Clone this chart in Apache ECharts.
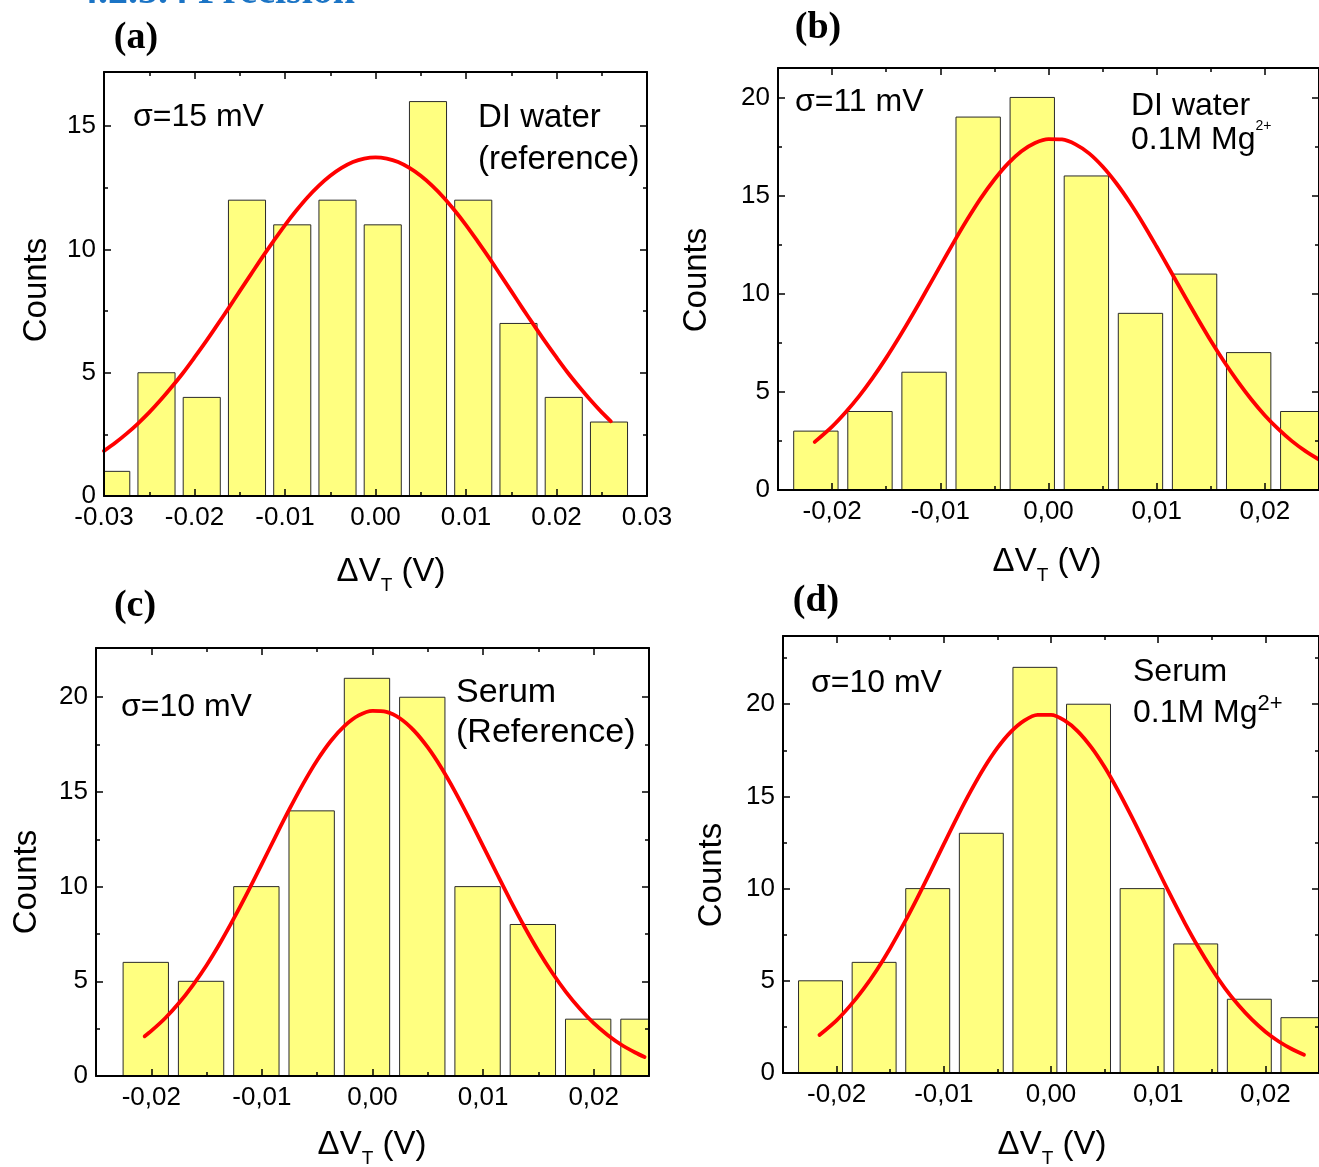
<!DOCTYPE html>
<html>
<head>
<meta charset="utf-8">
<script src="https://cdn.jsdelivr.net/npm/echarts@6/dist/echarts.min.js"></script>
<style>
  html, body { margin: 0; padding: 0; background: #fff; }
  #chart { width: 1319px; height: 1167px; }
</style>
</head>
<body>
<div id="chart"></div>
<script>
// ---- histogram data: bin centres (V) and counts ----
const binsA   = [-0.0292, -0.0242, -0.0192, -0.0142, -0.0092, -0.0042, 0.0008, 0.0058, 0.0108, 0.0158, 0.0208, 0.0258];
const countsA = [1, 5, 4, 12, 11, 12, 11, 16, 12, 7, 4, 3];

const binsB   = [-0.0215, -0.0165, -0.0115, -0.0065, -0.0015, 0.0035, 0.0085, 0.0135, 0.0185, 0.0235];
const countsB = [3, 4, 6, 19, 20, 16, 9, 11, 7, 4];

const binsC   = [-0.0205, -0.0155, -0.0105, -0.0055, -0.0005, 0.0045, 0.0095, 0.0145, 0.0195, 0.0245];
const countsC = [6, 5, 10, 14, 21, 20, 10, 8, 3, 3];

const binsD   = [-0.0215, -0.0165, -0.0115, -0.0065, -0.0015, 0.0035, 0.0085, 0.0135, 0.0185, 0.0235];
const countsD = [5, 6, 10, 13, 22, 20, 10, 7, 4, 3];

// ---- fitted normal curves (sampled points) ----
const fitXA = [-0.03, -0.02875, -0.0275, -0.02625, -0.025, -0.02375, -0.0225, -0.02125, -0.02, -0.01875,
               -0.0175, -0.01625, -0.015, -0.01375, -0.0125, -0.01125, -0.01, -0.00875, -0.0075, -0.00625,
               -0.005, -0.00375, -0.0025, -0.00125, 0, 0.00125, 0.0025, 0.00375, 0.005, 0.00625,
               0.0075, 0.00875, 0.01, 0.01125, 0.0125, 0.01375, 0.015, 0.01625, 0.0175, 0.01875,
               0.02, 0.02125, 0.0225, 0.02375, 0.025, 0.026];
const fitYA = [1.83, 2.16, 2.53, 2.94, 3.39, 3.89, 4.43, 5.00, 5.62, 6.26,
               6.93, 7.61, 8.31, 9.00, 9.69, 10.35, 10.99, 11.58, 12.12, 12.59,
               12.99, 13.31, 13.55, 13.69, 13.74, 13.69, 13.55, 13.31, 12.99, 12.59,
               12.12, 11.58, 10.99, 10.35, 9.69, 9.00, 8.31, 7.61, 6.93, 6.26,
               5.62, 5.00, 4.43, 3.89, 3.39, 3.03];

const fitXB = [-0.0216, -0.02, -0.01875, -0.0175, -0.01625, -0.015, -0.01375, -0.0125, -0.01125, -0.01,
               -0.00875, -0.0075, -0.00625, -0.005, -0.00375, -0.0025, -0.00125, 0, 0.00125, 0.0025,
               0.00375, 0.005, 0.00625, 0.0075, 0.00875, 0.01, 0.01125, 0.0125, 0.01375, 0.015,
               0.01625, 0.0175, 0.01875, 0.02, 0.02125, 0.0225, 0.02375, 0.025];
const fitYB = [2.45, 3.23, 3.96, 4.78, 5.71, 6.73, 7.83, 8.99, 10.20, 11.42,
               12.63, 13.79, 14.87, 15.82, 16.63, 17.26, 17.68, 17.88, 17.86, 17.61,
               17.15, 16.48, 15.64, 14.66, 13.57, 12.39, 11.18, 9.96, 8.76, 7.60,
               6.52, 5.52, 4.61, 3.80, 3.10, 2.49, 1.98, 1.55];

const fitXC = [-0.0206, -0.02, -0.01875, -0.0175, -0.01625, -0.015, -0.01375, -0.0125, -0.01125, -0.01,
               -0.00875, -0.0075, -0.00625, -0.005, -0.00375, -0.0025, -0.00125, 0, 0.00125, 0.0025,
               0.00375, 0.005, 0.00625, 0.0075, 0.00875, 0.01, 0.01125, 0.0125, 0.01375, 0.015,
               0.01625, 0.0175, 0.01875, 0.02, 0.02125, 0.0225, 0.02375, 0.0246];
const fitYC = [2.10, 2.38, 3.05, 3.85, 4.79, 5.85, 7.05, 8.36, 9.75, 11.20,
               12.67, 14.10, 15.45, 16.67, 17.70, 18.50, 19.04, 19.28, 19.23, 18.88,
               18.24, 17.35, 16.25, 14.98, 13.59, 12.14, 10.68, 9.24, 7.87, 6.60,
               5.45, 4.43, 3.55, 2.79, 2.17, 1.65, 1.24, 1.00];

const fitXD = [-0.0216, -0.02, -0.01875, -0.0175, -0.01625, -0.015, -0.01375, -0.0125, -0.01125, -0.01,
               -0.00875, -0.0075, -0.00625, -0.005, -0.00375, -0.0025, -0.00125, 0, 0.00125, 0.0025,
               0.00375, 0.005, 0.00625, 0.0075, 0.00875, 0.01, 0.01125, 0.0125, 0.01375, 0.015,
               0.01625, 0.0175, 0.01875, 0.02, 0.02125, 0.0225, 0.0236];
const fitYD = [2.06, 2.86, 3.64, 4.55, 5.59, 6.77, 8.07, 9.46, 10.92, 12.41,
               13.88, 15.27, 16.54, 17.63, 18.50, 19.11, 19.42, 19.42, 19.12, 18.53,
               17.67, 16.59, 15.32, 13.93, 12.47, 10.98, 9.52, 8.12, 6.82, 5.64,
               4.58, 3.67, 2.89, 2.24, 1.71, 1.29, 0.99];

// ---- tick values ----
const xTicksA  = [-0.03, -0.02, -0.01, 0, 0.01, 0.02, 0.03];
const xMinorA  = [-0.025, -0.015, -0.005, 0.005, 0.015, 0.025];
const xTicks   = [-0.02, -0.01, 0, 0.01, 0.02];
const xMinor   = [-0.025, -0.015, -0.005, 0.005, 0.015, 0.025];
const yTicksA  = [0, 5, 10, 15];
const yMinorA  = [2.5, 7.5, 12.5];
const yTicks   = [0, 5, 10, 15, 20];
const yMinorB  = [2.5, 7.5, 12.5, 17.5];
const yMinorD  = [2.5, 7.5, 12.5, 17.5, 22.5];

// ---- text ----
const sigmaA = 'σ=15 mV', sigmaB = 'σ=11 mV', sigmaC = 'σ=10 mV', sigmaD = 'σ=10 mV';
const heading = '4.2.5.4 Precision';

const SANS = '"Liberation Sans", Arial, sans-serif';
const SERIF = '"Liberation Serif", "Times New Roman", serif';
const BAR_FILL = '#ffff80';
const BAR_WIDTH = 0.0041;   // in volts (bin width 0.005)

const panels = [
  { grid: { left: 104, top: 72,  width: 543, height: 424 }, xRange: [-0.03, 0.03],  yMax: 17.2,
    xMajor: xTicksA, xMinor: xMinorA, yMajor: yTicksA, yMinor: yMinorA, sep: '.',
    bins: binsA, counts: countsA, fitX: fitXA, fitY: fitYA },
  { grid: { left: 778, top: 68,  width: 542, height: 422 }, xRange: [-0.025, 0.025], yMax: 21.5,
    xMajor: xTicks, xMinor: xMinor, yMajor: yTicks, yMinor: yMinorB, sep: ',',
    bins: binsB, counts: countsB, fitX: fitXB, fitY: fitYB },
  { grid: { left: 96,  top: 648, width: 553, height: 428 }, xRange: [-0.025, 0.025], yMax: 22.6,
    xMajor: xTicks, xMinor: xMinor, yMajor: yTicks, yMinor: yMinorB, sep: ',',
    bins: binsC, counts: countsC, fitX: fitXC, fitY: fitYC },
  { grid: { left: 783, top: 636, width: 542, height: 437 }, xRange: [-0.025, 0.025], yMax: 23.7,
    xMajor: xTicks, xMinor: xMinor, yMajor: yTicks, yMinor: yMinorD, sep: ',',
    bins: binsD, counts: countsD, fitX: fitXD, fitY: fitYD }
];

const tickStyle = { color: '#000', width: 1.5 };
const lineStyle = { color: '#000', width: 2 };
const labelStyle = { color: '#000', fontSize: 26, fontFamily: SANS };

// major (labelled) and minor tick axes on each side of a frame
function sideAxes(base, side, major, minor, labelOpts) {
  return [
    Object.assign({}, base, { position: side,
      axisLine: { show: true, onZero: false, lineStyle },
      axisTick: { show: true, inside: true, length: 7, customValues: major, lineStyle: tickStyle },
      axisLabel: labelOpts ? Object.assign({ show: true, customValues: major }, labelStyle, labelOpts) : { show: false } }),
    Object.assign({}, base, { position: side,
      axisLine: { show: false, onZero: false },
      axisTick: { show: true, inside: true, length: 4, customValues: minor, lineStyle: tickStyle },
      axisLabel: { show: false } })
  ];
}

function makeXAxes(i, p) {
  const base = { type: 'value', gridIndex: i, min: p.xRange[0], max: p.xRange[1],
                 splitLine: { show: false }, z: 5 };
  const fmt = v => v.toFixed(2).replace('.', p.sep);
  return [
    ...sideAxes(base, 'bottom', p.xMajor, p.xMinor, { formatter: fmt, margin: 9 }),
    ...sideAxes(base, 'top', p.xMajor, p.xMinor, null)
  ];
}

function makeYAxes(i, p) {
  const base = { type: 'value', gridIndex: i, min: 0, max: p.yMax,
                 splitLine: { show: false }, z: 5 };
  return [
    ...sideAxes(base, 'left', p.yMajor, p.yMinor, { margin: 8 }),
    ...sideAxes(base, 'right', p.yMajor, p.yMinor, null)
  ];
}

function renderBar(params, api) {
  const x = api.value(0), v = api.value(1);
  const p0 = api.coord([x - BAR_WIDTH / 2, v]);
  const p1 = api.coord([x + BAR_WIDTH / 2, 0]);
  const cs = params.coordSys;
  const rect = echarts.graphic.clipRectByRect(
    { x: p0[0], y: p0[1], width: p1[0] - p0[0], height: p1[1] - p0[1] },
    { x: cs.x, y: cs.y, width: cs.width, height: cs.height });
  if (!rect) return;
  return { type: 'rect', shape: rect, style: { fill: BAR_FILL, stroke: '#2a2a2a', lineWidth: 1 } };
}

const grids = [], xAxes = [], yAxes = [], series = [];
panels.forEach((p, i) => {
  grids.push(Object.assign({ containLabel: false }, p.grid));
  xAxes.push(...makeXAxes(i, p));
  yAxes.push(...makeYAxes(i, p));
  series.push({
    type: 'custom', xAxisIndex: 4 * i, yAxisIndex: 4 * i, z: 2,
    data: p.bins.map((b, k) => [b, p.counts[k]]),
    renderItem: renderBar
  });
  series.push({
    type: 'line', xAxisIndex: 4 * i, yAxisIndex: 4 * i, z: 3,
    data: p.fitX.map((x, k) => [x, p.fitY[k]]),
    smooth: 0.3, symbol: 'none', clip: true,
    lineStyle: { color: '#ff0000', width: 3.8, cap: 'round', join: 'round' }
  });
});

// ---- text helpers ----
const measureCtx = document.createElement('canvas').getContext('2d');
function fontOf(pt) {
  return (pt.weight || 'normal') + ' ' + pt.size + 'px ' + (pt.family || SANS);
}
function runWidth(parts) {
  let w = 0;
  parts.forEach(pt => { measureCtx.font = fontOf(pt); w += measureCtx.measureText(pt.text).width; });
  return w;
}
// a line of text made of runs (for sub/superscripts); y is the vertical middle of the main run
function textRun(x, y, parts, align) {
  let cx = align === 'center' ? x - runWidth(parts) / 2 : x;
  const els = [];
  parts.forEach(pt => {
    const font = fontOf(pt);
    els.push({ type: 'text', x: cx, y: y + (pt.dy || 0), z: 10,
      style: { text: pt.text, font, fill: pt.fill || '#000', align: 'left', verticalAlign: 'middle' } });
    measureCtx.font = font;
    cx += measureCtx.measureText(pt.text).width;
  });
  return els;
}
function label(x, y, text, size, opts) {
  opts = opts || {};
  return { type: 'text', x, y, z: 10, rotation: opts.rotation || 0,
    style: { text, font: fontOf({ size, weight: opts.weight, family: opts.family }),
             fill: opts.fill || '#000', align: opts.align || 'left', verticalAlign: 'middle' } };
}
function deltaVT(cx, cy) {
  return textRun(cx, cy, [
    { text: 'ΔV', size: 33 },
    { text: 'T', size: 19, dy: 14 },
    { text: ' (V)', size: 33 }
  ], 'center');
}

const graphics = [
  label(78, -7.5, heading, 40, { family: SERIF, weight: 'bold', fill: '#1b74c5' }),
  // panel letters
  label(136, 38, '(a)', 38, { family: SERIF, weight: 'bold', align: 'center' }),
  label(818, 28, '(b)', 38, { family: SERIF, weight: 'bold', align: 'center' }),
  label(135, 606, '(c)', 38, { family: SERIF, weight: 'bold', align: 'center' }),
  label(816, 601, '(d)', 38, { family: SERIF, weight: 'bold', align: 'center' }),
  // axis titles
  label(37, 290, 'Counts', 33, { rotation: Math.PI / 2, align: 'center' }),
  label(697, 280, 'Counts', 33, { rotation: Math.PI / 2, align: 'center' }),
  label(27, 882, 'Counts', 33, { rotation: Math.PI / 2, align: 'center' }),
  label(712, 875, 'Counts', 33, { rotation: Math.PI / 2, align: 'center' }),
  ...deltaVT(391, 572),
  ...deltaVT(1047, 562),
  ...deltaVT(372, 1145),
  ...deltaVT(1052, 1145),
  // sigma annotations
  label(133, 117, sigmaA, 32),
  label(795, 102, sigmaB, 32),
  label(121, 707, sigmaC, 32),
  label(811, 683, sigmaD, 32),
  // sample descriptions
  label(478, 118, 'DI water', 33),
  label(478, 160, '(reference)', 33),
  label(1131, 106, 'DI water', 32),
  ...textRun(1131, 140, [{ text: '0.1M Mg', size: 32 }, { text: '2+', size: 14, dy: -14 }]),
  label(456, 693, 'Serum', 34),
  label(456, 733, '(Reference)', 34),
  label(1133, 672, 'Serum', 32),
  ...textRun(1133, 713, [{ text: '0.1M Mg', size: 32 }, { text: '2+', size: 22, dy: -9 }])
];

const chart = echarts.init(document.getElementById('chart'), null, { renderer: 'canvas' });
chart.setOption({
  backgroundColor: '#fff',
  animation: false,
  grid: grids,
  xAxis: xAxes,
  yAxis: yAxes,
  series,
  graphic: graphics
});
</script>
</body>
</html>
